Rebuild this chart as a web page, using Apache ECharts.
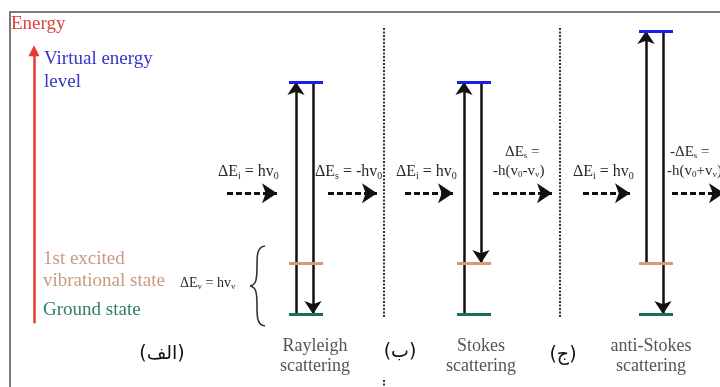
<!DOCTYPE html>
<html>
<head>
<meta charset="utf-8">
<script src="https://cdn.jsdelivr.net/npm/echarts@6/dist/echarts.min.js"></script>
<style>
html, body { margin: 0; padding: 0; background: #fff; }
#chart { width: 720px; height: 387px; }
</style>
</head>
<body>
<div id="chart"></div>
<script>
// energies are in units of the vibrational quantum h·v_v (ground state = 0)
const scatteringNames = ['Rayleigh\nscattering', 'Stokes\nscattering', 'anti-Stokes\nscattering'];
const panelLabels = ['(الف)', '(ب)', '(ج)'];
const columnX = [306, 474, 656];
const initialLevel = [0, 0, 1];
const virtualLevel = [4.55, 4.55, 5.55];
const finalLevel = [0, 1, 0];
const groundLevel = 0;
const excitedLevel = 1;
const photonLevel = 2.37;
const photonIn = [[227, 277], [405, 453], [583, 630]];
const photonOut = [[328, 377], [493, 552], [672, 724]];
const dividerX = [384, 560];
const dividerRange = [5.61, -0.08];
const energyAxisRange = [-0.18, 5.27];

// vertical scale of the drawing
const PX_PER_UNIT = 51;
const GROUND_PX = 314;
const H = 387;

const serif = '"Liberation Serif", "DejaVu Serif", serif';

function seg(x1, y1, x2, y2, color) {
    return {coords: [[x1, y1], [x2, y2]], lineStyle: color ? {color: color} : undefined};
}

const levelData = [];
const transitionData = [];
columnX.forEach(function (cx, i) {
    levelData.push(seg(cx - 17, virtualLevel[i], cx + 17, virtualLevel[i], '#1c1cf0'));
    levelData.push(seg(cx - 17, excitedLevel, cx + 17, excitedLevel, '#d89a70'));
    levelData.push(seg(cx - 17, groundLevel, cx + 17, groundLevel, '#1a6e5a'));
    transitionData.push(seg(cx - 10, initialLevel[i], cx - 10, virtualLevel[i]));
    transitionData.push(seg(cx + 7, virtualLevel[i], cx + 7, finalLevel[i]));
});

const photonData = photonIn.concat(photonOut).map(function (p) {
    return seg(p[0], photonLevel, p[1], photonLevel);
});

const dividerData = dividerX.map(function (x) {
    return seg(x, dividerRange[0], x, dividerRange[1]);
});
dividerData.push(seg(dividerX[0], (GROUND_PX - 380) / PX_PER_UNIT, dividerX[0], (GROUND_PX - H) / PX_PER_UNIT));

function txt(x, y, text, size, color, align, family) {
    return {
        type: 'text', x: x, y: y, silent: true,
        style: {
            text: text, fill: color, fontSize: size, fontFamily: family || serif,
            textAlign: align || 'left', textVerticalAlign: 'middle'
        }
    };
}

function delta(x, y, parts, size) {
    // parts: alternating normal / subscript strings
    let s = '';
    parts.forEach(function (p, k) {
        if (p) s += '{' + (k % 2 ? 's' : 't') + '|' + p + '}';
    });
    return {
        type: 'text', x: x, y: y, silent: true,
        style: {
            text: s, textAlign: 'left', textVerticalAlign: 'middle',
            rich: {
                t: {fontSize: size, fontFamily: serif, fill: '#2a2a2a', lineHeight: size + 2},
                s: {fontSize: Math.round(size * 0.62), fontFamily: serif, fill: '#2a2a2a',
                    lineHeight: Math.round(size * 0.62), verticalAlign: 'bottom'}
            }
        }
    };
}

function curve(p1, c1, c2, p2) {
    return {
        type: 'bezierCurve', silent: true,
        shape: {x1: p1[0], y1: p1[1], cpx1: c1[0], cpy1: c1[1], cpx2: c2[0], cpy2: c2[1], x2: p2[0], y2: p2[1]},
        style: {stroke: '#333', lineWidth: 1.6, fill: null}
    };
}

const graphics = [
    {type: 'polyline', silent: true, shape: {points: [[10, H], [10, 12], [720, 12]]},
        style: {stroke: '#7a7a7a', lineWidth: 2, fill: null}},
    txt(11, 24, 'Energy', 19, '#e0403a'),
    txt(44, 59, 'Virtual energy', 19, '#3535c8'),
    txt(44, 82, 'level', 19, '#3535c8'),
    txt(43, 259, '1st excited', 19, '#c99a80'),
    txt(43, 281, 'vibrational state', 19, '#c99a80'),
    txt(43, 310, 'Ground state', 19, '#2d8068'),
    delta(180, 283, ['ΔE', 'v', ' = hv', 'v'], 14),
    // curly brace
    curve([265, 246], [257, 247], [257, 255], [257, 266]),
    curve([257, 266], [257, 280], [256, 285], [250, 286]),
    curve([250, 286], [256, 287], [257, 292], [257, 306]),
    curve([257, 306], [257, 317], [257, 325], [265, 326]),
    delta(218, 172, ['ΔE', 'i', ' = hv', '0'], 16),
    delta(315, 172, ['ΔE', 's', ' = -hv', '0'], 16),
    delta(396, 172, ['ΔE', 'i', ' = hv', '0'], 16),
    delta(505, 152, ['ΔE', 's', ' ='], 15),
    delta(493, 171, ['-h(v', '0', '-v', 'v', ')'], 15),
    delta(573, 172, ['ΔE', 'i', ' = hv', '0'], 16),
    delta(670, 152, ['-ΔE', 's', ' ='], 15),
    delta(667, 171, ['-h(v', '0', '+v', 'v', ')'], 15)
];

const nameCenters = [315, 481, 651];
scatteringNames.forEach(function (n, i) {
    const lines = n.split('\n');
    graphics.push(txt(nameCenters[i], 346, lines[0], 18, '#555', 'center'));
    graphics.push(txt(nameCenters[i], 366, lines[1], 18, '#555', 'center'));
});
const panelCenters = [[162, 354], [400, 352], [563, 355]];
panelLabels.forEach(function (p, i) {
    graphics.push(txt(panelCenters[i][0], panelCenters[i][1], p, 19, '#111', 'center', '"DejaVu Sans", sans-serif'));
});

const chart = echarts.init(document.getElementById('chart'), null, {renderer: 'canvas'});
chart.setOption({
    animation: false,
    backgroundColor: '#fff',
    grid: {left: 0, right: 0, top: 0, bottom: 0},
    xAxis: {type: 'value', min: 0, max: 720, show: false},
    yAxis: {type: 'value', min: (GROUND_PX - H) / PX_PER_UNIT, max: GROUND_PX / PX_PER_UNIT, show: false},
    series: [
        {
            type: 'lines', coordinateSystem: 'cartesian2d', silent: true, z: 2,
            symbol: ['none', 'triangle'], symbolSize: [0, 11],
            lineStyle: {color: '#e8392f', width: 2.5, opacity: 1},
            data: [seg(34, energyAxisRange[0], 34, energyAxisRange[1] - 5.5 / PX_PER_UNIT)]
        },
        {
            type: 'lines', coordinateSystem: 'cartesian2d', silent: true, z: 2,
            symbol: 'none',
            lineStyle: {color: '#333', width: 2, type: [2, 1.5], opacity: 1},
            data: dividerData
        },
        {
            type: 'lines', coordinateSystem: 'cartesian2d', silent: true, z: 3,
            symbol: ['none', 'arrow'], symbolSize: [0, 15],
            lineStyle: {color: '#111', width: 3, type: [6, 3], opacity: 1},
            data: photonData
        },
        {
            type: 'lines', coordinateSystem: 'cartesian2d', silent: true, z: 3,
            symbol: ['none', 'arrow'], symbolSize: [0, 13],
            lineStyle: {color: '#111', width: 2.5, opacity: 1},
            data: transitionData
        },
        {
            type: 'lines', coordinateSystem: 'cartesian2d', silent: true, z: 4,
            symbol: 'none',
            lineStyle: {width: 3, opacity: 1},
            data: levelData
        }
    ],
    graphic: graphics
});
</script>
</body>
</html>
